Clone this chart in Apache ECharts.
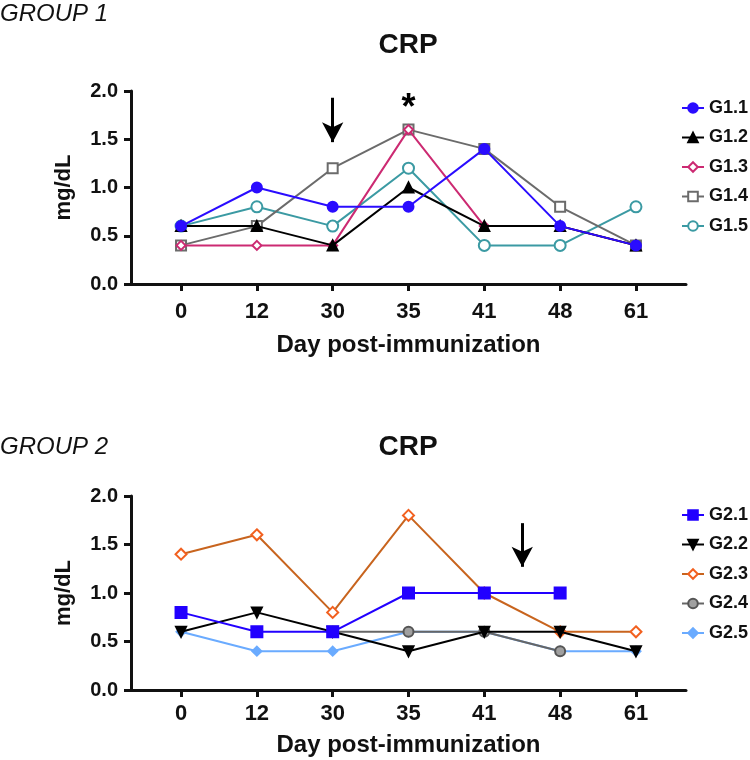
<!DOCTYPE html>
<html>
<head>
<meta charset="utf-8">
<script src="https://cdn.jsdelivr.net/npm/echarts@6/dist/echarts.min.js"></script>
<style>
  html, body { margin: 0; padding: 0; background: #fff; }
  #chart { width: 750px; height: 760px; }
</style>
</head>
<body>
<div id="chart"></div>
<script>
// day labels on the x axis (evenly spaced)
const days = ['0', '12', '30', '35', '41', '48', '61'];

// group 1 (mg/dL)
const g1Names = ['G1.1', 'G1.2', 'G1.3', 'G1.4', 'G1.5'];
const g11 = [0.6, 1.0, 0.8, 0.8, 1.4, 0.6, 0.4];
const g12 = [0.6, 0.6, 0.4, 1.0, 0.6, 0.6, 0.4];
const g13 = [0.4, 0.4, 0.4, 1.6, 0.6, 0.6, 0.4];
const g14 = [0.4, 0.6, 1.2, 1.6, 1.4, 0.8, 0.4];
const g15 = [0.6, 0.8, 0.6, 1.2, 0.4, 0.4, 0.8];

// group 2 (mg/dL), null = not measured
const g2Names = ['G2.1', 'G2.2', 'G2.3', 'G2.4', 'G2.5'];
const g21 = [0.8, 0.6, 0.6, 1.0, 1.0, 1.0, null];
const g22 = [0.6, 0.8, 0.6, 0.4, 0.6, 0.6, 0.4];
const g23 = [1.4, 1.6, 0.8, 1.8, 1.0, 0.6, 0.6];
const g24 = [null, null, 0.6, 0.6, 0.6, 0.4, null];
const g25 = [0.6, 0.4, 0.4, 0.6, 0.6, 0.4, 0.4];

const FONT = 'Liberation Sans, Arial, sans-serif';
const idx = days.map((d, i) => i);

function pairs(arr) {
  return arr.map((v, i) => [i, v == null ? '-' : v]);
}

function xAxisOf(gridIndex, nameGap, labelMargin) {
  return {
    type: 'value', gridIndex: gridIndex,
    min: -0.66, max: 6.66,
    name: 'Day post-immunization', nameLocation: 'middle', nameGap: nameGap,
    nameTextStyle: { color: '#111', fontSize: 24, fontWeight: 'bold', fontFamily: FONT },
    axisLine: { onZero: false, lineStyle: { color: '#111', width: 3 } },
    axisTick: { show: true, customValues: idx, length: 7, lineStyle: { color: '#111', width: 3 } },
    axisLabel: {
      customValues: idx, margin: labelMargin,
      color: '#111', fontSize: 22, fontWeight: 'bold', fontFamily: FONT,
      formatter: v => days[Math.round(v)]
    },
    splitLine: { show: false }
  };
}

function yAxisOf(gridIndex) {
  return {
    type: 'value', gridIndex: gridIndex,
    min: 0, max: 2, interval: 0.5,
    name: 'mg/dL', nameLocation: 'middle', nameGap: 56,
    nameTextStyle: { color: '#111', fontSize: 22, fontWeight: 'bold', fontFamily: FONT },
    axisLine: { show: true, onZero: false, lineStyle: { color: '#111', width: 3 } },
    axisTick: { show: true, length: 7, lineStyle: { color: '#111', width: 3 } },
    axisLabel: {
      margin: 13, color: '#111', fontSize: 20, fontWeight: 'bold', fontFamily: FONT,
      formatter: v => v.toFixed(1)
    },
    splitLine: { show: false }
  };
}

function line(name, data, gi, color, symbol, size, extra) {
  const s = {
    name: name, type: 'line',
    xAxisIndex: gi, yAxisIndex: gi,
    data: pairs(data),
    connectNulls: false,
    symbol: symbol, symbolSize: size,
    showAllSymbol: true,
    lineStyle: { color: color, width: 2 },
    itemStyle: { color: color, borderColor: color, borderWidth: 2 },
    emphasis: { disabled: true },
    animation: false
  };
  return Object.assign(s, extra || {});
}

const arrowStyle = {
  silent: true,
  symbol: ['none', 'arrow'],
  symbolSize: [16, 20],
  lineStyle: { color: '#000', width: 3, type: 'solid' },
  label: { show: false },
  animation: false
};

const series = [
  line(g1Names[0], g11, 0, '#2a0cff', 'circle', 10, {
    z: 10,
    markLine: Object.assign({ data: [[{ coord: [2, 1.93] }, { coord: [2, 1.47] }]] }, arrowStyle),
    markPoint: {
      silent: true, symbol: 'circle', symbolSize: 0,
      label: { show: true, formatter: '*', color: '#000', fontSize: 36, fontWeight: 'bold', fontFamily: FONT, offset: [0, 8] },
      data: [{ coord: [3, 1.9] }],
      animation: false
    }
  }),
  line(g1Names[1], g12, 0, '#000', 'triangle', 10, { z: 9 }),
  line(g1Names[2], g13, 0, '#cc2a72', 'emptyDiamond', 9, { z: 8 }),
  line(g1Names[3], g14, 0, '#6b6b6b', 'emptyRect', 10, { z: 7 }),
  line(g1Names[4], g15, 0, '#3b9aa3', 'emptyCircle', 11, { z: 6 }),

  line(g2Names[0], g21, 1, '#2200ff', 'rect', 11, {
    z: 10,
    markLine: Object.assign({ data: [[{ coord: [4.5, 1.72] }, { coord: [4.5, 1.27] }]] }, arrowStyle)
  }),
  line(g2Names[1], g22, 1, '#000', 'triangle', 10, { z: 9, symbolRotate: 180 }),
  line(g2Names[2], g23, 1, '#c8641e', 'emptyDiamond', 11, {
    z: 8, itemStyle: { color: '#f2601f', borderColor: '#f2601f', borderWidth: 2 }
  }),
  line(g2Names[3], g24, 1, '#666', 'circle', 10, {
    z: 7, itemStyle: { color: '#a0a0a0', borderColor: '#555', borderWidth: 2 }
  }),
  line(g2Names[4], g25, 1, '#6aabff', 'diamond', 9, { z: 6 })
];

const legendBase = {
  orient: 'vertical', left: 676,
  itemWidth: 22, itemHeight: 12, itemGap: 11.5,
  textStyle: { color: '#111', fontSize: 18, fontWeight: 'bold', fontFamily: FONT },
  selectedMode: false
};

const chart = echarts.init(document.getElementById('chart'), null, { renderer: 'canvas' });
chart.setOption({
  backgroundColor: '#fff',
  animation: false,
  grid: [
    { left: 131, top: 91, width: 555, height: 193 },
    { left: 131, top: 496, width: 555, height: 194 }
  ],
  xAxis: [xAxisOf(0, 49, 17), xAxisOf(1, 43, 13)],
  yAxis: [yAxisOf(0), yAxisOf(1)],
  legend: [
    Object.assign({ top: 94, data: g1Names }, legendBase),
    Object.assign({ top: 501, data: g2Names }, legendBase)
  ],
  graphic: [
    { type: 'text', left: 0, top: 2, style: { text: 'GROUP 1', font: 'italic 24px ' + FONT, fill: '#111' } },
    { type: 'text', left: 0, top: 435, style: { text: 'GROUP 2', font: 'italic 24px ' + FONT, fill: '#111' } },
    { type: 'text', x: 408, y: 45, style: { text: 'CRP', font: 'bold 28px ' + FONT, fill: '#111', textAlign: 'center', textVerticalAlign: 'middle' } },
    { type: 'text', x: 408, y: 447, style: { text: 'CRP', font: 'bold 28px ' + FONT, fill: '#111', textAlign: 'center', textVerticalAlign: 'middle' } }
  ],
  series: series
});
</script>
</body>
</html>
